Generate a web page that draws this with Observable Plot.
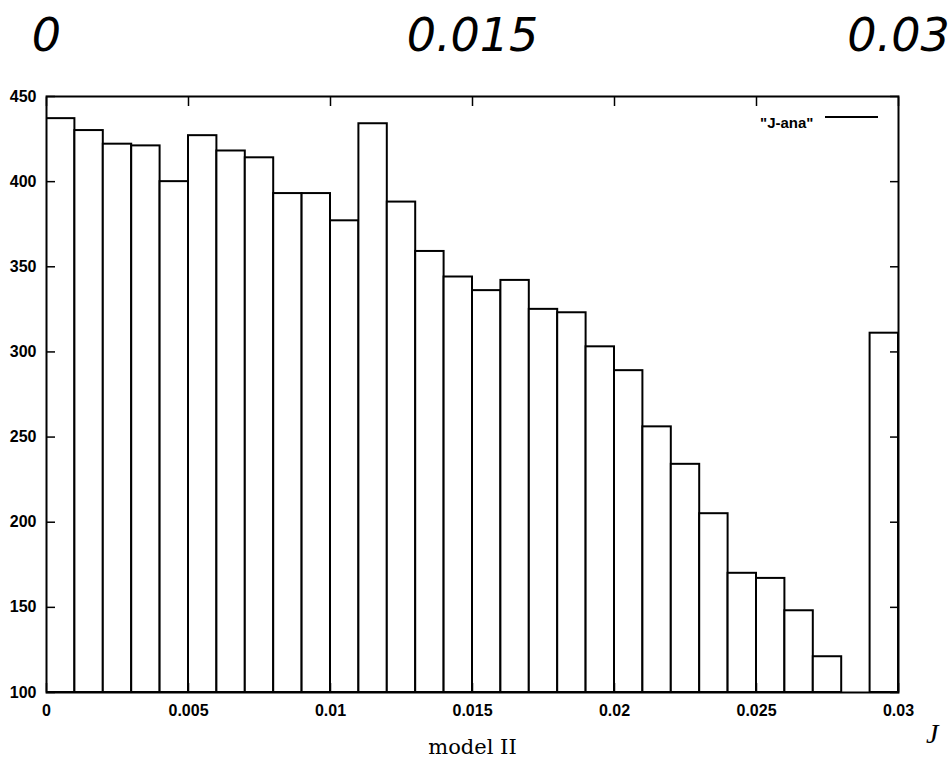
<!DOCTYPE html>
<html><head><meta charset="utf-8">
<script src="https://cdn.jsdelivr.net/npm/d3@7"></script>
<script src="https://cdn.jsdelivr.net/npm/@observablehq/plot@0.6"></script>
<style>body{margin:0;background:#fff}</style>
</head><body><div id="chart"></div>
<script>
const binStarts = [0,0.001,0.002,0.003,0.004,0.005,0.006,0.007,0.008,0.009,0.010,0.011,0.012,0.013,0.014,0.015,0.016,0.017,0.018,0.019,0.020,0.021,0.022,0.023,0.024,0.025,0.026,0.027,0.028,0.029];
const binWidth = 0.001;
const counts = [437,430,422,421,400,427,418,414,393,393,377,434,388,359,344,336,342,325,323,303,289,256,234,205,170,167,148,121,100,311];
const xTicks = [0,0.005,0.01,0.015,0.02,0.025,0.03];
const xTickLabels = ["0","0.005","0.01","0.015","0.02","0.025","0.03"];
const yTicks = [100,150,200,250,300,350,400,450];
const handX = [0,0.015,0.03];
const handLabels = ["0","0.015","0.03"];
const seriesName = "\"J-ana\"";
const xLabel = "model II";
const xVar = "J";

const yMin = yTicks[0], yMax = yTicks[yTicks.length-1];
const bars = binStarts.map((x0,i)=>({x1:x0, x2:x0+binWidth, y1:yMin, y2:counts[i]}));

const legendLine = (index, scales, values, dims) => {
  const xr = dims.width - dims.marginRight;
  return d3.create("svg:line")
    .attr("x1", xr - 73).attr("x2", xr - 20)
    .attr("y1", dims.marginTop + 21).attr("y2", dims.marginTop + 21)
    .attr("stroke","black").attr("stroke-width",2).node();
};

const chart = Plot.plot({
  width: 951, height: 764,
  marginLeft: 46, marginRight: 53, marginTop: 96, marginBottom: 72,
  style: {fontFamily: "Liberation Sans, Arial, sans-serif", fontSize: "17px", background: "white", color: "black"},
  x: {domain: [0, 0.03], label: null},
  y: {domain: [yMin, yMax], label: null},
  marks: [
    Plot.rectY(bars, {x1:"x1", x2:"x2", y1:"y1", y2:"y2", fill:"white", stroke:"black", strokeWidth:2, clip:true}),
    Plot.axisY({ticks: yTicks, tickSize: 0, tickPadding: 10, fontSize: 16, fontWeight: "bold", label: null}),
    Plot.axisY({ticks: yTicks, anchor:"left", tickSize: -9, text: null, strokeWidth: 1.5, label: null}),
    Plot.axisY({ticks: yTicks, anchor:"right", tickSize: -9, text: null, strokeWidth: 1.5, label: null}),
    Plot.axisX({ticks: xTicks, tickSize: 0, tickPadding: 12, fontSize: 16, fontWeight: "bold", tickFormat: (d,i)=>xTickLabels[i], label: null}),
    Plot.axisX({ticks: xTicks, anchor:"bottom", tickSize: -9, text: null, strokeWidth: 1.5, label: null}),
    Plot.axisX({ticks: xTicks, anchor:"top", tickSize: -9, text: null, strokeWidth: 1.5, label: null}),
    Plot.frame({stroke:"black", strokeWidth:2}),
    Plot.text(handLabels, {x: handX, text: d=>d, frameAnchor:"top", dy:-46, lineAnchor:"bottom", fontSize:46, fontStyle:"italic", fontFamily:"DejaVu Sans"}),
    Plot.text([seriesName], {frameAnchor:"top-right", dx:-85, dy:21, textAnchor:"end", fontSize:15, fontWeight:"bold"}),
    legendLine,
    Plot.text([xLabel], {frameAnchor:"bottom", dy:61, lineAnchor:"bottom", fontFamily:"DejaVu Serif", fontSize:21}),
    Plot.text([xVar], {frameAnchor:"bottom-right", dx:40, dy:50, lineAnchor:"bottom", fontFamily:"Liberation Serif", fontStyle:"italic", fontSize:28})
  ]
});
document.getElementById("chart").appendChild(chart);
</script>
</body></html>
